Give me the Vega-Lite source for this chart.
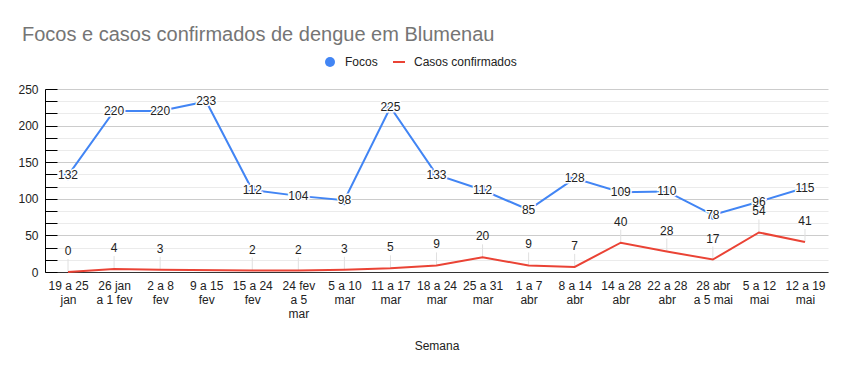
{
  "$schema": "https://vega.github.io/schema/vega-lite/v6.json",
  "autosize": "none",
  "width": 783,
  "height": 183,
  "padding": {"left": 45, "top": 89, "right": 19, "bottom": 99},
  "background": "white",
  "config": {
    "view": {"stroke": null},
    "font": "Liberation Sans",
    "text": {"font": "Liberation Sans"}
  },
  "title": {
    "text": "Focos e casos confirmados de dengue em Blumenau",
    "anchor": "start",
    "frame": "group",
    "dx": -23,
    "offset": -5,
    "baseline": "alphabetic",
    "fontSize": 20,
    "fontWeight": "normal",
    "color": "#757575",
    "font": "Liberation Sans"
  },
  "data": {
    "values": [
      {"semana": "19 a 25 jan", "focos": 132, "casos": 0},
      {"semana": "26 jan a 1 fev", "focos": 220, "casos": 4},
      {"semana": "2 a 8 fev", "focos": 220, "casos": 3},
      {"semana": "9 a 15 fev", "focos": 233, "casos": null},
      {"semana": "15 a 24 fev", "focos": 112, "casos": 2},
      {"semana": "24 fev a 5 mar", "focos": 104, "casos": 2},
      {"semana": "5 a 10 mar", "focos": 98, "casos": 3},
      {"semana": "11 a 17 mar", "focos": 225, "casos": 5},
      {"semana": "18 a 24 mar", "focos": 133, "casos": 9},
      {"semana": "25 a 31 mar", "focos": 112, "casos": 20},
      {"semana": "1 a 7 abr", "focos": 85, "casos": 9},
      {"semana": "8 a 14 abr", "focos": 128, "casos": 7},
      {"semana": "14 a 28 abr", "focos": 109, "casos": 40},
      {"semana": "22 a 28 abr", "focos": 110, "casos": 28},
      {"semana": "28 abr a 5 mai", "focos": 78, "casos": 17},
      {"semana": "5 a 12 mai", "focos": 96, "casos": 54},
      {"semana": "12 a 19 mai", "focos": 115, "casos": 41}
    ]
  },
  "encoding": {
    "x": {
      "field": "semana",
      "type": "nominal",
      "sort": ["19 a 25 jan", "26 jan a 1 fev", "2 a 8 fev", "9 a 15 fev", "15 a 24 fev", "24 fev a 5 mar", "5 a 10 mar", "11 a 17 mar", "18 a 24 mar", "25 a 31 mar", "1 a 7 abr", "8 a 14 abr", "14 a 28 abr", "22 a 28 abr", "28 abr a 5 mai", "5 a 12 mai", "12 a 19 mai"],
      "scale": {"type": "point", "padding": 0.5},
      "axis": {
        "title": "Semana",
        "titleFont": "Liberation Sans",
        "titleFontSize": 12,
        "titleFontWeight": "normal",
        "titleColor": "#222222",
        "titleY": 77,
        "titleBaseline": "alphabetic",
        "labelAngle": 0,
        "labelFont": "Liberation Sans",
        "labelFontSize": 12,
        "labelColor": "#222222",
        "labelLineHeight": 14,
        "labelBaseline": "top",
        "labelPadding": 8,
        "labelOverlap": false,
        "labelExpr": "{'19 a 25 jan': ['19 a 25', 'jan'], '26 jan a 1 fev': ['26 jan', 'a 1 fev'], '2 a 8 fev': ['2 a 8', 'fev'], '9 a 15 fev': ['9 a 15', 'fev'], '15 a 24 fev': ['15 a 24', 'fev'], '24 fev a 5 mar': ['24 fev', 'a 5', 'mar'], '5 a 10 mar': ['5 a 10', 'mar'], '11 a 17 mar': ['11 a 17', 'mar'], '18 a 24 mar': ['18 a 24', 'mar'], '25 a 31 mar': ['25 a 31', 'mar'], '1 a 7 abr': ['1 a 7', 'abr'], '8 a 14 abr': ['8 a 14', 'abr'], '14 a 28 abr': ['14 a 28', 'abr'], '22 a 28 abr': ['22 a 28', 'abr'], '28 abr a 5 mai': ['28 abr', 'a 5 mai'], '5 a 12 mai': ['5 a 12', 'mai'], '12 a 19 mai': ['12 a 19', 'mai']}[datum.label]",
        "ticks": false,
        "grid": false,
        "domainColor": "#333333",
        "domainWidth": 1
      }
    }
  },
  "layer": [
    {
      "layer": [
        {
          "transform": [{"filter": "datum.casos != null"}],
          "mark": {"type": "rule", "color": "#e0e0e0", "strokeWidth": 1, "y2Offset": -13},
          "encoding": {
            "y": {"field": "casos", "type": "quantitative"},
            "y2": {"field": "casos"}
          }
        },
        {
          "mark": {"type": "line", "strokeWidth": 2},
          "encoding": {
            "y": {"field": "focos", "type": "quantitative"},
            "color": {
              "datum": "Focos",
              "type": "nominal",
              "scale": {"domain": ["Focos", "Casos confirmados"], "range": ["#4285F4", "#EA4335"]},
              "legend": {
                "title": null,
                "orient": "none",
                "direction": "horizontal",
                "legendX": 279,
                "legendY": -33,
                "labelFont": "Liberation Sans",
                "labelFontSize": 12,
                "labelColor": "#222222",
                "labelOffset": 9,
                "columnPadding": 15,
                "symbolSize": 100,
                "encode": {
                  "symbols": {
                    "update": {
                      "shape": {"signal": "datum.value === 'Focos' ? 'circle' : 'M-1.2,-0.2H1.2V0.2H-1.2Z'"},
                      "fill": {"signal": "datum.value === 'Focos' ? '#4285F4' : '#EA4335'"},
                      "stroke": {"value": "transparent"},
                      "strokeWidth": {"value": 0},
                      "opacity": {"value": 1}
                    }
                  }
                }
              }
            }
          }
        },
        {
          "mark": {"type": "point", "filled": true, "size": 95, "opacity": 1},
          "encoding": {
            "y": {"field": "focos", "type": "quantitative"},
            "color": {"datum": "Focos", "type": "nominal"}
          }
        },
        {
          "mark": {"type": "text", "fontSize": 12, "baseline": "middle", "align": "center", "fill": "white", "stroke": "white", "strokeWidth": 3, "font": "Liberation Sans"},
          "encoding": {
            "y": {"field": "focos", "type": "quantitative"},
            "text": {"field": "focos", "type": "quantitative"}
          }
        },
        {
          "mark": {"type": "text", "fontSize": 12, "baseline": "middle", "align": "center", "color": "#222222", "font": "Liberation Sans"},
          "encoding": {
            "y": {"field": "focos", "type": "quantitative"},
            "text": {"field": "focos", "type": "quantitative"}
          }
        },
        {
          "transform": [{"filter": "datum.casos != null"}],
          "mark": {"type": "line", "strokeWidth": 2},
          "encoding": {
            "y": {"field": "casos", "type": "quantitative"},
            "color": {"datum": "Casos confirmados", "type": "nominal"}
          }
        },
        {
          "transform": [{"filter": "datum.casos != null"}],
          "mark": {"type": "text", "fontSize": 12, "baseline": "middle", "align": "center", "dy": -21, "color": "#222222", "font": "Liberation Sans"},
          "encoding": {
            "y": {"field": "casos", "type": "quantitative"},
            "text": {"field": "casos", "type": "quantitative"}
          }
        }
      ],
      "encoding": {
        "y": {
          "type": "quantitative",
          "scale": {"domain": [0, 250], "nice": false},
          "axis": {
            "title": null,
            "values": [0, 16.6667, 33.3333, 50, 66.6667, 83.3333, 100, 116.6667, 133.3333, 150, 166.6667, 183.3333, 200, 216.6667, 233.3333, 250],
            "labelExpr": "datum.value % 50 == 0 ? datum.label : ''",
            "labelFont": "Liberation Sans",
            "labelFontSize": 12,
            "labelColor": "#222222",
            "labelPadding": 19,
            "tickSize": -12,
            "tickColor": "#000000",
            "domainColor": "#000000",
            "grid": true,
            "gridColor": {"condition": {"test": "datum.value % 50 == 0", "value": "#cccccc"}, "value": "#ebebeb"},
            "labelOverlap": false
          }
        }
      }
    }
  ]
}
